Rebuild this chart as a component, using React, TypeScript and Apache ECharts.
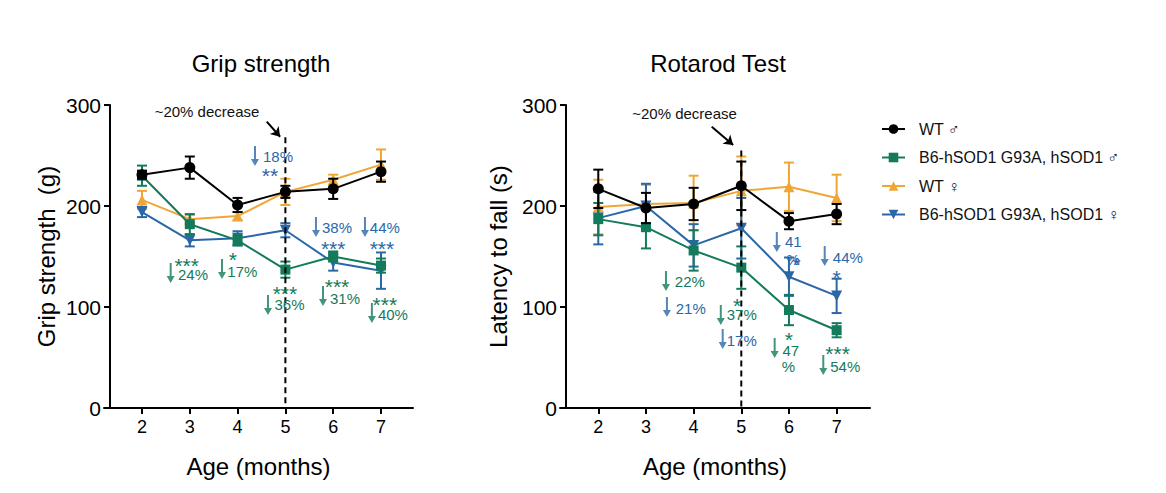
import React, { useEffect, useRef } from "react";
import * as echarts from "echarts";

// ---------- data ----------
const months = [2, 3, 4, 5, 6, 7];
const yTicks = [0, 100, 200, 300];

const seriesNames = [
  "WT \u2642",
  "B6-hSOD1 G93A, hSOD1 \u2642",
  "WT \u2640",
  "B6-hSOD1 G93A, hSOD1 \u2640",
];

// Grip strength (g): mean and SEM
const gripWTM = [231, 238, 201, 214, 217, 234];
const gripWTMErr = [4, 11, 7, 6, 10, 10];
const gripB6M = [230, 182, 166, 137, 150, 141];
const gripB6MErr = [10, 10, 5, 8, 5, 7];
const gripWTF = [206, 187, 190, 214, 226, 241];
const gripWTFErr = [9, 4, 4, 13, 5, 15];
const gripB6F = [194, 166, 168, 176, 144, 136];
const gripB6FErr = [5, 6, 7, 7, 8, 18];

// Rotarod latency to fall (s): mean and SEM
const rotaWTM = [217, 198, 202, 220, 185, 192];
const rotaWTMErr = [19, 15, 16, 24, 8, 10];
const rotaB6M = [187, 179, 156, 139, 97, 77];
const rotaB6MErr = [16, 21, 20, 21, 15, 7];
const rotaWTF = [199, 202, 203, 215, 219, 208];
const rotaWTFErr = [27, 19, 27, 34, 24, 23];
const rotaB6F = [188, 200, 161, 178, 130, 111];
const rotaB6FErr = [26, 22, 21, 30, 19, 17];

// reference line at 5 months and pointer arrow
const gripRefLine = [[5, 268], [5, 0]];
const gripPointer = [[4.61, 283.5], [4.89, 268.6]];
const rotaRefLine = [[5, 255], [5, 0]];
const rotaPointer = [[4.38, 278.5], [4.83, 260.4]];
const gripRefNote = [3.36, 294, "~20% decrease"];
const rotaRefNote = [3.81, 292, "~20% decrease"];

// annotation texts [x, y, text]
const gripGreenNotes = [
  [2.935, 146.5, "***"], [3.067, 131.7, "24%"],
  [3.9, 151.5, "*"], [4.1, 134.7, "17%"],
  [4.99, 118.8, "***"], [5.086, 102, "36%"],
  [6.08, 124.8, "***"], [6.247, 108.9, "31%"],
  [7.08, 107.9, "***"], [7.25, 92.1, "40%"],
];
const gripBlueNotes = [
  [4.845, 249.5, "18%"], [4.678, 235.6, "**"],
  [6.08, 179.2, "38%"], [6.0, 162.4, "***"],
  [7.08, 179.2, "44%"], [7.02, 162.4, "***"],
];
const gripGreenArrows = [[2.6, 133.7], [3.674, 137.6], [4.636, 102], [5.787, 110.9], [6.81, 94]];
const gripBlueArrows = [[4.364, 249.5], [5.64, 179.2], [6.665, 179.2]];

const rotaGreenNotes = [
  [3.92, 124.8, "22%"],
  [4.91, 106.9, "*"], [5.01, 92.1, "37%"],
  [6.0, 72.3, "*"], [6.04, 57.4, "47"], [5.99, 40.6, "%"],
  [7.02, 59.4, "***"], [7.18, 40.6, "54%"],
];
const rotaBlueNotes = [
  [3.94, 99, "21%"],
  [5.01, 67.3, "17%"],
  [6.09, 164.4, "41"], [6.09, 147.5, "%"], [6.16, 147.5, "*"],
  [7.235, 149.5, "44%"], [7.0, 133.7, "*"],
];
const rotaGreenArrows = [[3.42, 125.7], [4.57, 92], [5.7, 59.4], [6.72, 42.6]];
const rotaBlueArrows = [[3.44, 100], [4.61, 68.3], [5.745, 164.4], [6.75, 150.5]];

// ---------- styles ----------
const FONT = "'Liberation Sans', Arial, Helvetica, sans-serif";
const BLACK = "#000000";
const GREEN = "#137a5b";
const ORANGE = "#f0a636";
const BLUE = "#2a67a8";
const ARROW_PATH = "path://M3,0 H5 V13 H8 L4,20 L0,13 H3 Z";

const groupStyles = [
  { color: BLACK, symbol: "circle", rotate: 0, size: 11 },
  { color: GREEN, symbol: "rect", rotate: 0, size: 10 },
  { color: ORANGE, symbol: "triangle", rotate: 0, size: 11 },
  { color: BLUE, symbol: "triangle", rotate: 180, size: 11 },
];
const drawOrder = [2, 3, 1, 0];

function lineSeries(idx: number, gi: number, vals: number[]) {
  const s = groupStyles[gi];
  return {
    type: "line",
    name: seriesNames[gi],
    xAxisIndex: idx,
    yAxisIndex: idx,
    data: months.map((m, i) => [m, vals[i]]),
    symbol: s.symbol,
    symbolSize: s.size,
    symbolRotate: s.rotate,
    lineStyle: { color: s.color, width: 2 },
    itemStyle: { color: s.color },
    z: 3 + drawOrder.indexOf(gi),
  };
}

function errSeries(idx: number, gi: number, vals: number[], errs: number[]) {
  const color = groupStyles[gi].color;
  return {
    type: "custom",
    xAxisIndex: idx,
    yAxisIndex: idx,
    silent: true,
    z: 3 + drawOrder.indexOf(gi),
    data: months.map((m, i) => [m, vals[i], errs[i]]),
    renderItem: (params: any, api: any) => {
      const x = api.value(0);
      const y = api.value(1);
      const e = api.value(2);
      const top = api.coord([x, y + e]);
      const bot = api.coord([x, y - e]);
      const w = 5;
      const st = { stroke: color, lineWidth: 2, fill: "none" };
      return {
        type: "group",
        children: [
          { type: "line", shape: { x1: top[0], y1: top[1], x2: bot[0], y2: bot[1] }, style: st },
          { type: "line", shape: { x1: top[0] - w, y1: top[1], x2: top[0] + w, y2: top[1] }, style: st },
          { type: "line", shape: { x1: bot[0] - w, y1: bot[1], x2: bot[0] + w, y2: bot[1] }, style: st },
        ],
      };
    },
  };
}

function noteLabel(text: string, color: string, star: boolean) {
  return {
    show: true,
    position: "inside",
    formatter: text,
    color,
    opacity: 1,
    textBorderWidth: 0,
    textBorderColor: "transparent",
    textShadowBlur: 0,
    fontFamily: FONT,
    fontSize: star ? 21 : 15,
    offset: star ? [0, 5] : [0, 0],
  };
}

function notesSeries(idx: number, notes: any[], color: string) {
  return {
    type: "scatter",
    xAxisIndex: idx,
    yAxisIndex: idx,
    silent: true,
    symbolSize: 1,
    itemStyle: { color: color, opacity: 0 },
    z: 20,
    data: notes.map((n) => ({
      value: [n[0], n[1]],
      label: noteLabel(n[2], color, /^\*+$/.test(n[2])),
    })),
  };
}

function arrowSeries(idx: number, pts: number[][], color: string) {
  return {
    type: "scatter",
    xAxisIndex: idx,
    yAxisIndex: idx,
    silent: true,
    symbol: ARROW_PATH,
    symbolKeepAspect: false,
    symbolSize: [8, 20],
    itemStyle: { color },
    z: 20,
    data: pts.map((p) => [p[0], p[1]]),
  };
}

function refSeries(idx: number, line: number[][], pointer: number[][], note: any[]) {
  return [
    {
      type: "line",
      xAxisIndex: idx,
      yAxisIndex: idx,
      silent: true,
      symbol: "none",
      data: line,
      lineStyle: { color: "#000", width: 2, type: [6, 4] },
      z: 15,
      markLine: {
        silent: true,
        symbol: ["none", "arrow"],
        symbolSize: 9,
        label: { show: false },
        lineStyle: { color: "#000", width: 2, type: "solid" },
        data: [[{ coord: pointer[0] }, { coord: pointer[1] }]],
      },
    },
    notesSeries(idx, [note], "#111"),
  ];
}

function xAxisCfg(idx: number, min: number, max: number) {
  return {
    type: "value",
    gridIndex: idx,
    min,
    max,
    axisLine: { show: true, onZero: false, lineStyle: { color: "#000", width: 2 } },
    axisTick: { show: true, customValues: months, length: 6, lineStyle: { color: "#000", width: 2 } },
    axisLabel: { customValues: months, fontSize: 18, color: "#000", margin: 10, fontFamily: FONT },
    splitLine: { show: false },
    name: "Age (months)",
    nameLocation: "middle",
    nameGap: 46,
    nameTextStyle: { fontSize: 24, color: "#000", fontFamily: FONT },
  };
}

function yAxisCfg(idx: number, name: string, gap: number) {
  return {
    type: "value",
    gridIndex: idx,
    min: yTicks[0],
    max: yTicks[yTicks.length - 1],
    interval: 100,
    offset: -6,
    axisLine: { show: true, lineStyle: { color: "#000", width: 2 } },
    axisTick: { show: true, length: 6, lineStyle: { color: "#000", width: 2 } },
    axisLabel: { fontSize: 21, color: "#000", margin: 9, fontFamily: FONT },
    splitLine: { show: false },
    name,
    nameLocation: "middle",
    nameGap: gap,
    nameRotate: 90,
    nameTextStyle: { fontSize: 24, color: "#000", fontFamily: FONT },
  };
}

const gripData = [
  [gripWTM, gripWTMErr],
  [gripB6M, gripB6MErr],
  [gripWTF, gripWTFErr],
  [gripB6F, gripB6FErr],
];
const rotaData = [
  [rotaWTM, rotaWTMErr],
  [rotaB6M, rotaB6MErr],
  [rotaWTF, rotaWTFErr],
  [rotaB6F, rotaB6FErr],
];

function chartSeries(idx: number, data: number[][][]) {
  const out: any[] = [];
  drawOrder.forEach((gi) => {
    out.push(errSeries(idx, gi, data[gi][0], data[gi][1]));
    out.push(lineSeries(idx, gi, data[gi][0]));
  });
  return out;
}

const option: any = {
  animation: false,
  textStyle: { fontFamily: FONT },
  graphic: [
    { type: "text", x: 261, y: 63, style: { text: "Grip strength", fontSize: 24, fontFamily: FONT, fill: "#000", align: "center", verticalAlign: "middle" } },
    { type: "text", x: 718, y: 63, style: { text: "Rotarod Test", fontSize: 24, fontFamily: FONT, fill: "#000", align: "center", verticalAlign: "middle" } },
  ],
  legend: {
    data: seriesNames,
    orient: "vertical",
    left: 876,
    top: 116,
    itemWidth: 23,
    itemHeight: 12,
    itemGap: 12.5,
    selectedMode: false,
    textStyle: { fontSize: 16, color: "#111", fontFamily: FONT, padding: [0, 0, 0, 9] },
  },
  grid: [
    { left: 104, top: 105, width: 309, height: 303 },
    { left: 560, top: 105, width: 310, height: 303 },
  ],
  xAxis: [xAxisCfg(0, 1.205, 7.67), xAxisCfg(1, 1.197, 7.7)],
  yAxis: [yAxisCfg(0, "Grip strength  (g)", 52), yAxisCfg(1, "Latency to fall (s)", 56)],
  series: [
    ...chartSeries(0, gripData),
    ...chartSeries(1, rotaData),
    ...refSeries(0, gripRefLine, gripPointer, gripRefNote),
    ...refSeries(1, rotaRefLine, rotaPointer, rotaRefNote),
    notesSeries(0, gripGreenNotes, GREEN),
    notesSeries(0, gripBlueNotes, BLUE),
    arrowSeries(0, gripGreenArrows, GREEN),
    arrowSeries(0, gripBlueArrows, BLUE),
    notesSeries(1, rotaGreenNotes, GREEN),
    notesSeries(1, rotaBlueNotes, BLUE),
    arrowSeries(1, rotaGreenArrows, GREEN),
    arrowSeries(1, rotaBlueArrows, BLUE),
  ],
};

export default function App() {
  const ref = useRef<HTMLDivElement>(null);
  useEffect(() => {
    const chart = echarts.init(ref.current as HTMLDivElement, null, { renderer: "svg" });
    chart.setOption(option);
    return () => chart.dispose();
  }, []);
  return (
    <div
      ref={ref}
      style={{ position: "absolute", left: 0, top: 0, width: 1166, height: 493, background: "#fff" }}
    />
  );
}
